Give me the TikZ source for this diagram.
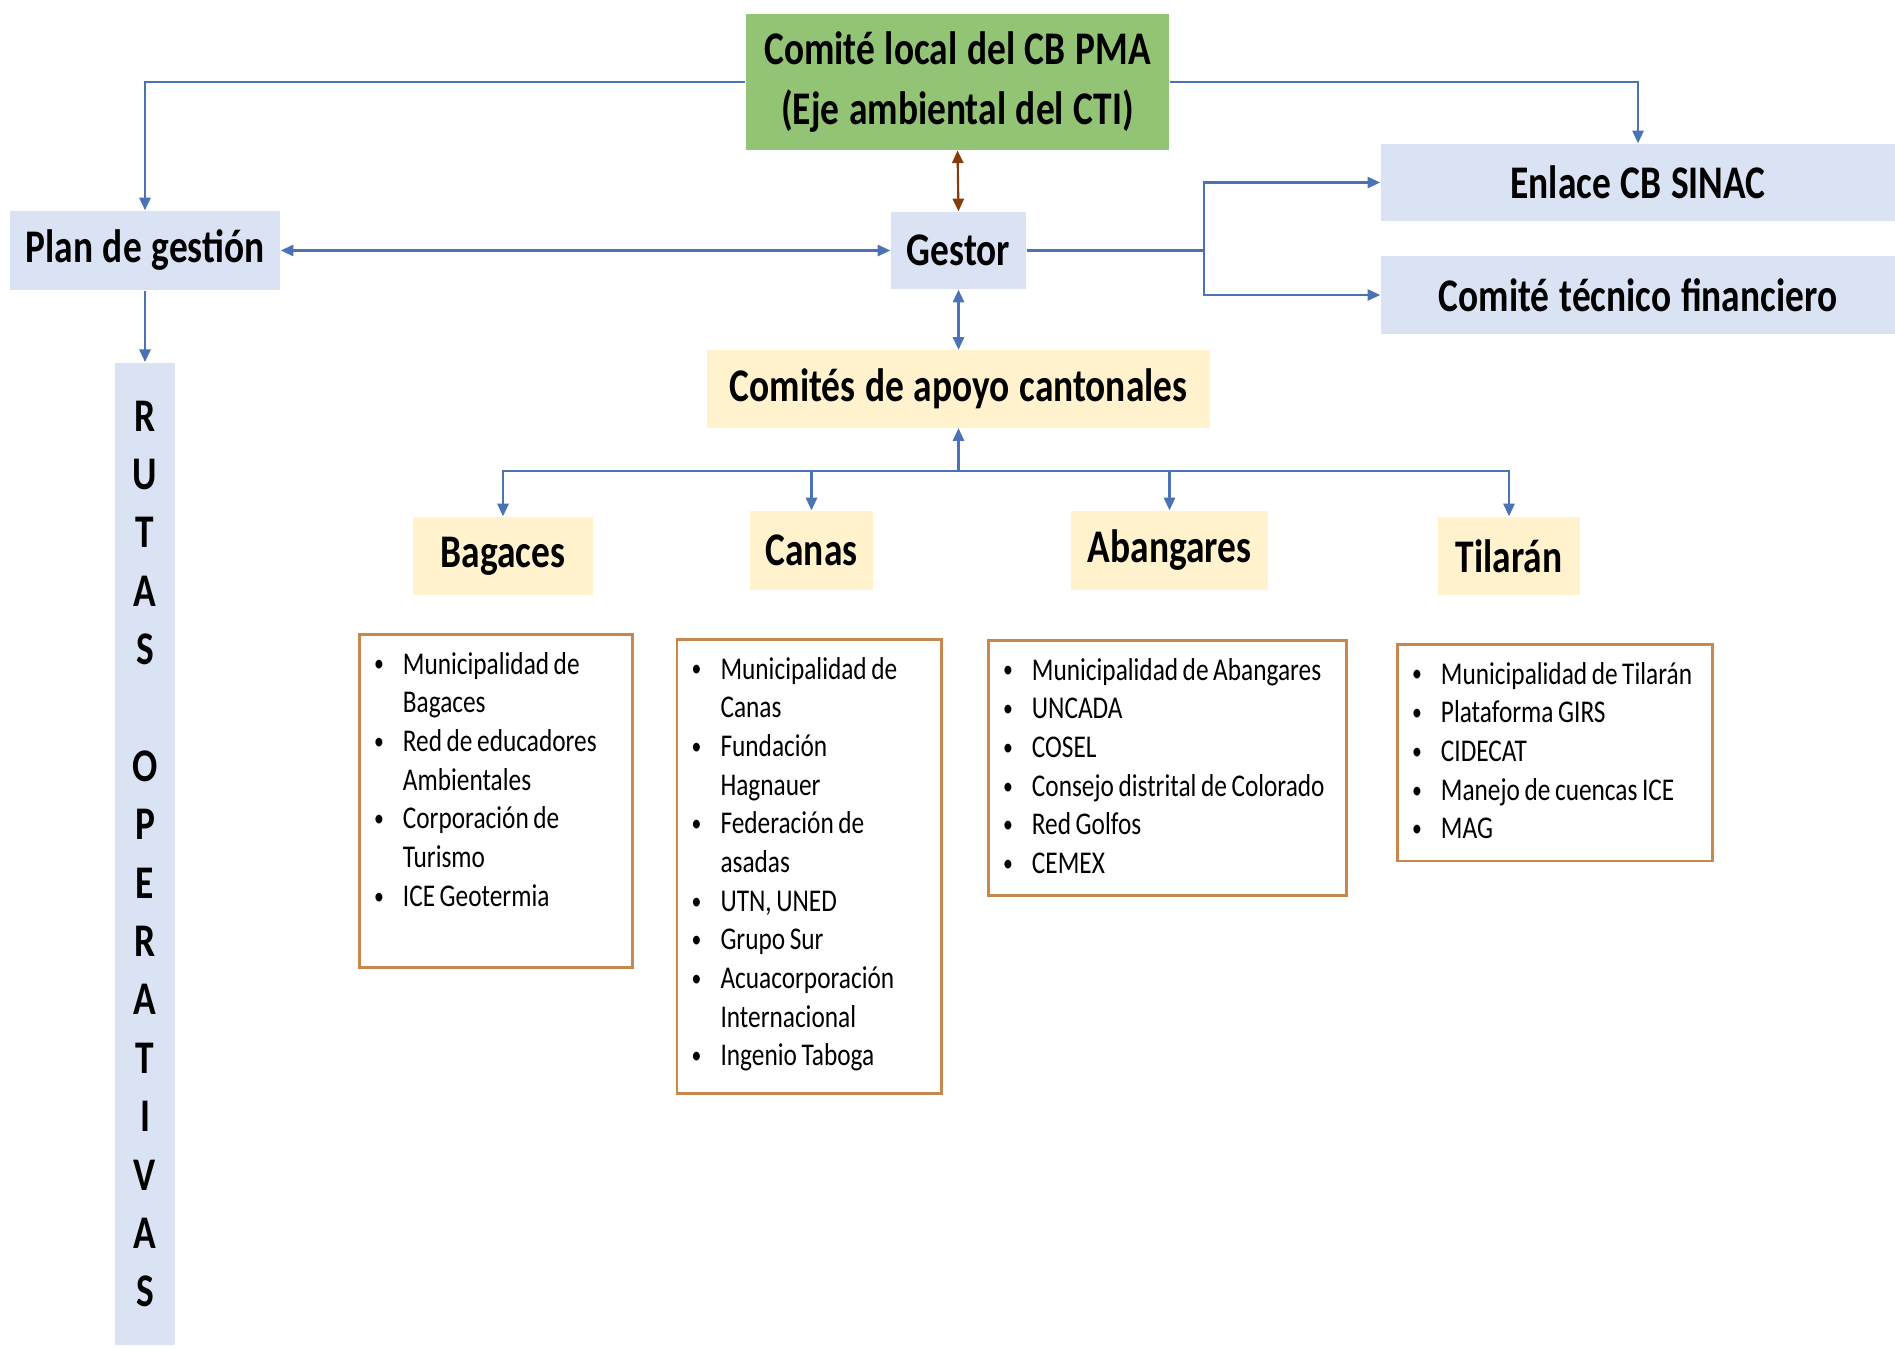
\documentclass[tikz,border=0pt]{standalone}
\usepackage{fontspec}
\setmainfont{Carlito}[FakeStretch=0.8, WordSpace=0.8]
\newfontfamily\cabecera{Carlito}[FakeStretch=0.8, WordSpace=1.15]
\usepackage{enumitem}
\setlist[itemize]{nosep, leftmargin=8.1pt, labelsep=5.4pt, before={\raggedright\spaceskip=0pt\xspaceskip=0pt},
    after=\vspace*{0.21cm}, label=\raisebox{0.6pt}{\fontsize{7}{7}\selectfont\textbullet}}
\usetikzlibrary{arrows.meta}
\definecolor{verde}{RGB}{147,196,118}
\definecolor{celeste}{RGB}{218,227,243}
\definecolor{crema}{RGB}{255,242,204}
\definecolor{naranja}{RGB}{201,135,80}
\definecolor{azul}{RGB}{74,114,180}
\definecolor{cafe}{RGB}{132,60,12}

\begin{document}
\begin{tikzpicture}[x=0.01cm, y=-0.01cm, >={Triangle[length=3.6pt,width=3.2pt]},
    linea/.style = {draw=azul, line width=0.6pt},
    bloque/.style = {inner sep=0pt, align=center, font=\cabecera\fontsize{13.3}{16.8}\selectfont\bfseries},
    azulbox/.style = {bloque, fill=celeste},
    cremabox/.style = {bloque, fill=crema},
    lista/.style = {draw=naranja, line width=0.8pt, anchor=north west, inner xsep=0.15cm,
        inner ysep=0.01cm, align=left, font=\fontsize{9}{11}\selectfont}]
    \useasboundingbox (0,0) rectangle (1895,1348);

    \node[bloque, fill=verde, minimum width=4.23cm, minimum height=1.355cm] (comite) at (957.5, 82)
        {Comité local del CB PMA\\(Eje ambiental del CTI)};
    \node[azulbox, minimum width=2.70cm, minimum height=0.79cm] (plan) at (145, 250.5) {Plan de gestión};
    \node[azulbox, minimum width=1.35cm, minimum height=0.77cm] (gestor) at (958.5, 250.5) {Gestor};
    \node[azulbox, minimum width=5.14cm, minimum height=0.77cm] (enlace) at (1638, 182.5) {Enlace CB SINAC};
    \node[azulbox, minimum width=5.14cm, minimum height=0.78cm] (tecnico) at (1638, 295) {Comité técnico financiero};
    \node[cremabox, minimum width=5.03cm, minimum height=0.77cm] (apoyo) at (958.5, 389) {Comités de apoyo cantonales};

    \node[cremabox, minimum width=1.80cm, minimum height=0.78cm] (bagaces) at (503, 556) {Bagaces};
    \node[cremabox, minimum width=1.22cm, minimum height=0.79cm] (canas) at (811.5, 550.5) {Canas};
    \node[cremabox, minimum width=1.97cm, minimum height=0.79cm] (abangares) at (1169.5, 550.5) {Abangares};
    \node[cremabox, minimum width=1.42cm, minimum height=0.78cm] (tilaran) at (1509, 556) {Tilarán};

    \node[azulbox, minimum width=0.60cm, minimum height=9.82cm, font=\cabecera\fontsize{13.3}{16.6}\selectfont\bfseries]
        (rutas) at (145, 854) {R\\U\\T\\A\\S\\[16.6pt]O\\P\\E\\R\\A\\T\\I\\V\\A\\S};

    \node[lista, text width=2.43cm] (Lbagaces) at (358, 633) {\begin{itemize}[after=\vspace*{0.60cm}]
        \item Municipalidad de\newline Bagaces
        \item Red de educadores\newline Ambientales
        \item Corporación de\newline Turismo
        \item ICE Geotermia
        \end{itemize}};
    \node[lista, text width=2.34cm] (Lcanas) at (675.6, 638) {\begin{itemize}
        \item Municipalidad de\newline Canas
        \item Fundación\newline Hagnauer
        \item Federación de\newline asadas
        \item UTN, UNED
        \item Grupo Sur
        \item Acuacorporación\newline Internacional
        \item Ingenio Taboga
        \end{itemize}};
    \node[lista, text width=3.28cm] (Labangares) at (987, 639) {\begin{itemize}
        \item Municipalidad de Abangares
        \item UNCADA
        \item COSEL
        \item Consejo distrital de Colorado
        \item Red Golfos
        \item CEMEX
        \end{itemize}};
    \node[lista, text width=2.85cm] (Ltilaran) at (1396, 643) {\begin{itemize}
        \item Municipalidad de Tilarán
        \item Plataforma GIRS
        \item CIDECAT
        \item Manejo de cuencas ICE
        \item MAG
        \end{itemize}};

    \coordinate (reparto) at (1204, 250.5);
    \coordinate (eje) at (958.5, 471);

    \draw[linea, ->] (comite.west) -| (plan.north);
    \draw[linea, ->] (comite.east) -| (enlace.north);
    \draw[draw=cafe, line width=0.6pt, <->] (comite.south) -- (gestor.north);
    \draw[linea, <->] (plan.east) -- (gestor.west);
    \draw[linea] (gestor.east) -- (reparto);
    \draw[linea, ->] (reparto) |- (enlace.west);
    \draw[linea, ->] (reparto) |- (tecnico.west);
    \draw[linea, <->] (gestor.south) -- (apoyo.north);
    \draw[linea, ->] (plan.south) -- (rutas.north);

    \draw[linea, ->] (eje) -- (apoyo.south);
    \draw[linea, ->] (eje) -| (bagaces.north);
    \draw[linea, ->] (eje) -| (canas.north);
    \draw[linea, ->] (eje) -| (abangares.north);
    \draw[linea, ->] (eje) -| (tilaran.north);
\end{tikzpicture}
\end{document}
